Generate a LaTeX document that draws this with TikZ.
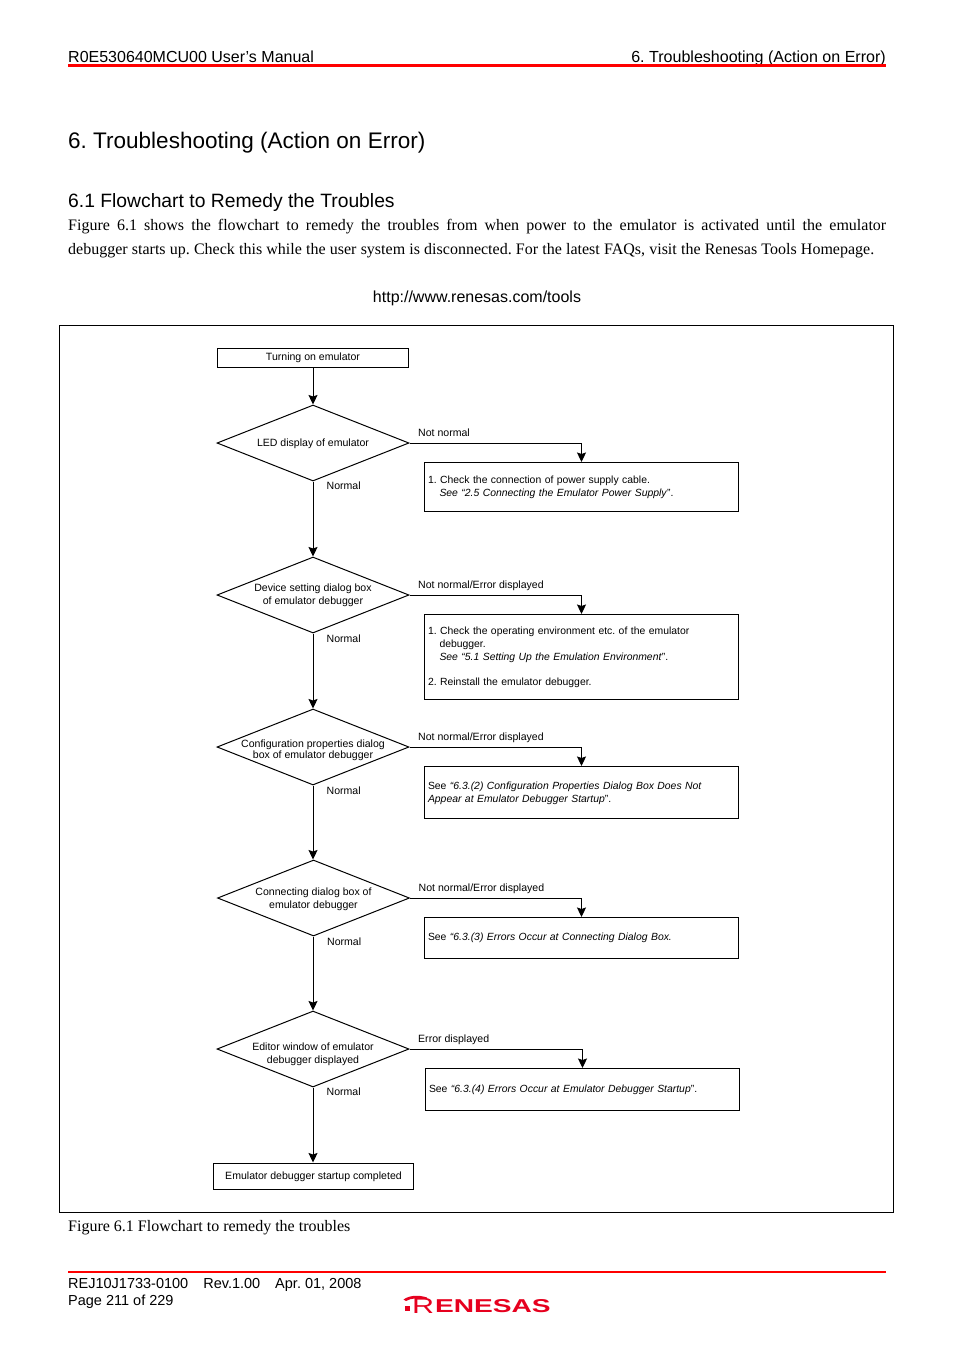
\documentclass[tikz,border=0pt]{standalone}
\usepackage{fontspec}
\setmainfont{Liberation Sans}
\newfontfamily\timesf{Liberation Serif}
\usetikzlibrary{shapes.geometric,arrows.meta}
\definecolor{rred}{RGB}{255,0,0}
\definecolor{logored}{RGB}{230,0,30}
\tikzset{
  flowline/.style={line width=1pt,draw=black},
  arr/.style={flowline,-{Stealth[length=9.5pt,width=9pt,inset=1.5pt]}},
  smalltext/.style={font=\frenchspacing\fontsize{10.55}{13.2}\selectfont},
  termbox/.style={draw=black,line width=1pt,smalltext,inner sep=0pt,align=center},
  notebox/.style={draw=black,line width=1pt,font=\frenchspacing\fontsize{10.4}{13.1}\selectfont,inner xsep=3.5pt,inner ysep=0pt,align=left,text width=307pt,minimum width=314pt},
  decision/.style={diamond,aspect=2.5,draw=black,line width=1pt,smalltext,inner sep=-5pt,align=center,minimum width=192pt,minimum height=76pt},
  flowlabel/.style={smalltext,inner sep=0pt,anchor=base west},
  plain/.style={inner sep=0pt,anchor=base west}
}
\newcommand{\ind}{\hspace*{11.5pt}}
\newcommand{\nudge}[1]{\rule{0pt}{#1pt}}
\begin{document}
\begin{tikzpicture}[x=1pt,y=-1pt]
\useasboundingbox (0,0) rectangle (954,1350);
% header
\node[plain,font=\frenchspacing\fontsize{16}{18}\selectfont] (hl) at (68,62) {R0E530640MCU00 User’s Manual};
\node[plain,anchor=base east,font=\frenchspacing\fontsize{16.05}{18}\selectfont] (hr) at (886,62) {6. Troubleshooting (Action on Error)};
\fill[rred] (68,64) rectangle (886,66.7);
\node[plain,font=\frenchspacing\fontsize{22.52}{26}\selectfont] (title) at (68,148) {6. Troubleshooting (Action on Error)};
\node[plain,font=\frenchspacing\fontsize{19.3}{22}\selectfont] (sub) at (68,207) {6.1 Flowchart to Remedy the Troubles};
\node[plain,font=\frenchspacing\timesf\fontsize{16}{18}\selectfont] (p1) at (68,230) {\makebox[818pt][s]{Figure 6.1 shows the flowchart to remedy the troubles from when power to the emulator is activated until the emulator}};
\node[plain,font=\frenchspacing\timesf\fontsize{16}{18}\selectfont] (p2) at (68,254) {\makebox[806pt][s]{debugger starts up. Check this while the user system is disconnected. For the latest FAQs, visit the Renesas Tools Homepage.}};
\node[plain,anchor=base,font=\frenchspacing\fontsize{16}{18}\selectfont] (url) at (477,302) {http://www.renesas.com/tools};
% frame
\node[draw=black,line width=1pt,minimum width=834pt,minimum height=887pt,inner sep=0pt] (frame) at (476.5,769) {};
% flow
\node[termbox,minimum width=191pt,minimum height=19pt] (start) at (313,358) {Turning on emulator};
\node[decision] (d1) at (313,443) {\nudge{10}LED display of emulator};
\node[decision] (d2) at (313,595) {Device setting dialog box\\of emulator debugger};
\node[decision,font=\frenchspacing\fontsize{10.55}{11}\selectfont] (d3) at (313,747) {\nudge{14}Configuration properties dialog\\box of emulator debugger};
\node[decision,font=\frenchspacing\fontsize{10.55}{12.4}\selectfont] (d4) at (313.5,898) {\nudge{10}Connecting dialog box of\\emulator debugger};
\node[decision] (d5) at (313,1049) {\nudge{18}Editor window of emulator\\debugger displayed};
\node[termbox,minimum width=200pt,minimum height=26pt] (end) at (313.5,1176) {\nudge{10}Emulator debugger startup completed};

\node[notebox,minimum height=49pt] (b1) at (581.5,487) {1. Check the connection of power supply cable.\\\ind\textit{See “2.5 Connecting the Emulator Power Supply}”.\\[2pt]};
\node[notebox,minimum height=85pt] (b2) at (581.5,657) {1. Check the operating environment etc. of the emulator\\\ind debugger.\\\ind\textit{See “5.1 Setting Up the Emulation Environment}”.\\[12pt]2. Reinstall the emulator debugger.\\[3pt]};
\node[notebox,minimum height=52pt] (b3) at (581.5,792.5) {\nudge{10}See \textit{“6.3.(2) Configuration Properties Dialog Box Does Not}\\\textit{Appear at Emulator Debugger Startup}”.};
\node[notebox,minimum height=41pt] (b4) at (581.5,938) {See \textit{“6.3.(3) Errors Occur at Connecting Dialog Box.}};
\node[notebox,minimum height=42pt] (b5) at (582.5,1089.5) {See \textit{“6.3.(4) Errors Occur at Emulator Debugger Startup}”.};

\draw[arr] (start) -- (d1);
\draw[arr] (d1) -- (d2);
\draw[arr] (d2) -- (d3);
\draw[arr] (d3) -- (d3 |- d4.north);
\draw[arr] (d5 |- d4.south) -- (d5.north);
\draw[arr] (d5) -- (d5 |- end.north);
\draw[arr] (d1.east) -| (b1.north);
\draw[arr] (d2.east) -| (b2.north);
\draw[arr] (d3.east) -| (b3.north);
\draw[arr] (d4.east) -| (b4.north);
\draw[arr] (d5.east) -| (b5.north);

\node[flowlabel] (n1) at (418,436) {Not normal};
\node[flowlabel] (n2) at (418,588) {Not normal/Error displayed};
\node[flowlabel] (n3) at (418,740) {Not normal/Error displayed};
\node[flowlabel] (n4) at (418.5,891) {Not normal/Error displayed};
\node[flowlabel] (n5) at (418,1042) {Error displayed};
\node[flowlabel] (o1) at (326.5,489) {Normal};
\node[flowlabel] (o2) at (326.5,642) {Normal};
\node[flowlabel] (o3) at (326.5,794) {Normal};
\node[flowlabel] (o4) at (327,945) {Normal};
\node[flowlabel] (o5) at (326.5,1095) {Normal};

\node[plain,font=\frenchspacing\timesf\fontsize{16}{18}\selectfont] (cap) at (68,1231) {Figure 6.1 Flowchart to remedy the troubles};
% footer
\fill[rred] (68,1271) rectangle (886,1273);
\node[plain,font=\frenchspacing\fontsize{14.5}{16}\selectfont] (f1) at (68,1288) {REJ10J1733-0100\hspace{15pt}Rev.1.00\hspace{15pt}Apr. 01, 2008};
\node[plain,font=\frenchspacing\fontsize{14.5}{16}\selectfont] (f2) at (68,1305) {Page 211 of 229};
% logo
\node[plain,text=logored] (logoR) at (412,1313) {\resizebox{22pt}{15pt}{R}};
\node[plain,text=logored] (logo) at (435,1312.5) {\resizebox{115.5pt}{13pt}{\bfseries ENESAS}};
\fill[logored] (403.5,1299.5) .. controls (409,1295.5) and (418,1294.5) .. (427,1297.5) -- (427,1299.5) .. controls (419,1297.5) and (411,1298) .. (406,1301) -- cycle;
\fill[logored] (405,1306) rectangle (410,1311);
\end{tikzpicture}
\end{document}
